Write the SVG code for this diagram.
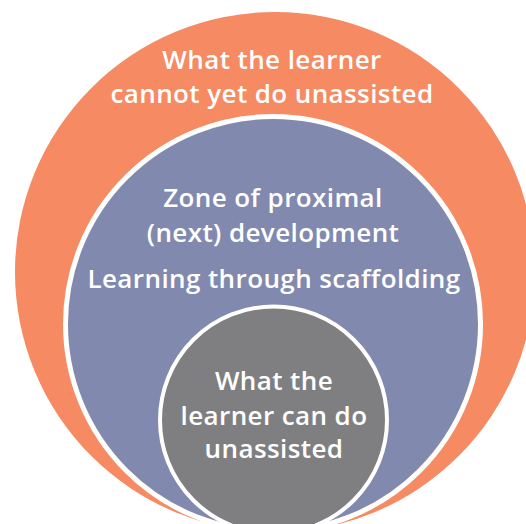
<svg xmlns="http://www.w3.org/2000/svg" width="526" height="524" viewBox="0 0 526 524">
  <style>
    .lbl { font-family: "Open Sans", "Liberation Sans", sans-serif; font-size: 26px; font-weight: 600; letter-spacing: 0.4px; fill: #ffffff; text-anchor: middle; }
  </style>
  <rect width="526" height="524" fill="#ffffff"/>
  <g id="outer">
    <circle cx="275" cy="272" r="260" fill="#F58A63"/>
    <text class="lbl" x="272" y="68.5">What the learner</text>
    <text class="lbl" x="272" y="103">cannot yet do unassisted</text>
  </g>
  <g id="middle">
    <circle cx="273" cy="324" r="207.5" fill="#8189AE" stroke="#ffffff" stroke-width="5"/>
    <text class="lbl" x="273" y="207">Zone of proximal</text>
    <text class="lbl" x="273" y="242">(next) development</text>
    <text class="lbl" x="274" y="288">Learning through scaffolding</text>
  </g>
  <g id="inner">
    <circle cx="273.5" cy="420" r="113.5" fill="#7F7F81" stroke="#ffffff" stroke-width="4"/>
    <text class="lbl" x="274" y="390">What the</text>
    <text class="lbl" x="274" y="425">learner can do</text>
    <text class="lbl" x="274" y="458">unassisted</text>
  </g>
  <g id="connectors"></g>
</svg>
